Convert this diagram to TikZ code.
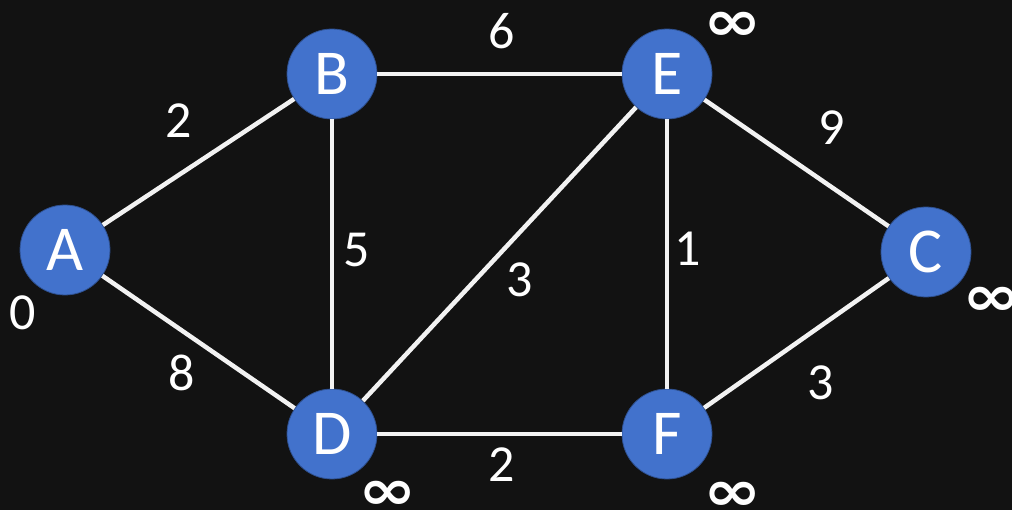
\documentclass[tikz,border=0pt]{standalone}
\usepackage{fontspec}
\setmainfont{Carlito}
\newfontfamily\symfont{DejaVu Sans}
\definecolor{bg}{HTML}{121212}
\definecolor{nodeblue}{RGB}{66,114,204}
\definecolor{edgewhite}{HTML}{F2F2F2}
\newcommand{\infsym}{\scalebox{1.25}[1]{∞}}
\begin{document}
\begin{tikzpicture}[x=1pt,y=-1pt,
  vtx/.style={circle,fill=nodeblue,draw=nodeblue!70!black,line width=0.8pt,minimum size=90pt,inner sep=0pt,text=white,font=\fontsize{64}{64}\selectfont},
  edge/.style={draw=edgewhite,line width=4.5pt},
  wt/.style={text=white,font=\fontsize{52}{52}\selectfont,inner sep=0pt},
  dist/.style={text=white,font=\symfont\bfseries\fontsize{56}{56}\selectfont,inner sep=0pt,text height=26pt,text depth=0pt}]
\fill[bg] (0,0) rectangle (1012,510);
\useasboundingbox (0,0) rectangle (1012,510);
\node[vtx] (A) at (65,250) {A};
\node[vtx] (B) at (332,74) {B};
\node[vtx] (E) at (667,74) {E};
\node[vtx] (C) at (926,252) {C};
\node[vtx] (D) at (332,434) {D};
\node[vtx] (F) at (667,434) {F};
\path[edge] (A) -- (B);
\path[edge] (A) -- (D);
\path[edge] (B) -- (E);
\path[edge] (B) -- (D);
\path[edge] (D) -- (E);
\path[edge] (E) -- (F);
\path[edge] (E) -- (C);
\path[edge] (D) -- (F);
\path[edge] (F) -- (C);
\node[wt] (wAB) at (179,121) {2};
\node[wt] (wBE) at (502,31) {6};
\node[wt] (wBD) at (357,250) {5};
\node[wt] (wDE) at (520,280) {3};
\node[wt] (wEF) at (688,249) {1};
\node[wt] (wEC) at (832,128) {9};
\node[wt] (wAD) at (182,373) {8};
\node[wt] (wDF) at (502,465) {2};
\node[wt] (wFC) at (821,383) {3};
\node[wt] (dA) at (23,313) {0};
\node[dist] (dE) at (733,28) {\infsym};
\node[dist] (dC) at (992,303) {\infsym};
\node[dist] (dD) at (388,496) {\infsym};
\node[dist] (dF) at (733,497) {\infsym};
\end{tikzpicture}
\end{document}
